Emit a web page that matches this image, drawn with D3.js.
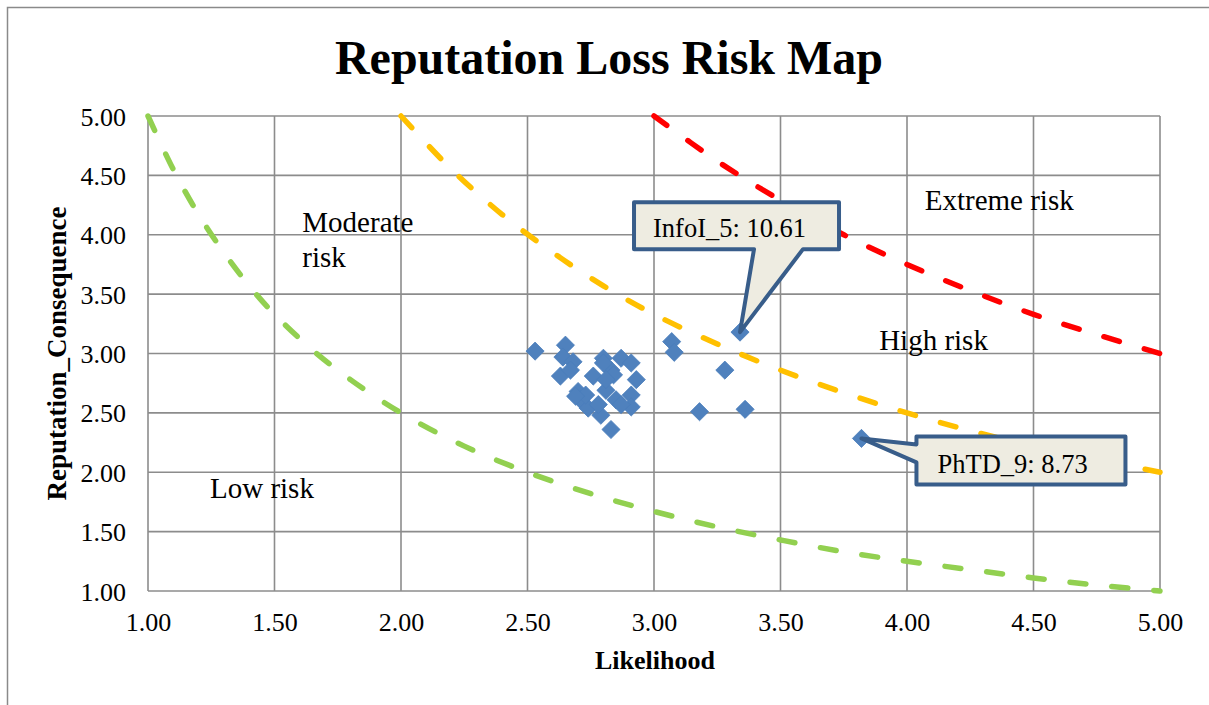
<!DOCTYPE html>
<html><head><meta charset="utf-8">
<script src="https://cdn.jsdelivr.net/npm/d3@7"></script>
<style>html,body{margin:0;padding:0;background:#fff;}svg{display:block;}</style>
</head><body>
<script>
// ---- data ----
const xTicks = [1.00, 1.50, 2.00, 2.50, 3.00, 3.50, 4.00, 4.50, 5.00];
const yTicks = [1.00, 1.50, 2.00, 2.50, 3.00, 3.50, 4.00, 4.50, 5.00];
const likelihood = [2.53, 2.65, 2.64, 2.68, 2.63, 2.67, 2.80, 2.87, 2.91, 2.76, 2.83, 2.84, 2.93, 2.70, 2.71, 2.74, 2.79, 2.83, 2.81, 2.85, 2.91, 2.91, 2.87, 2.78, 2.73, 2.81, 2.80, 2.69, 3.07, 3.08, 3.34, 3.28, 3.18, 3.36, 3.82];
const consequence = [3.02, 3.07, 2.97, 2.93, 2.81, 2.86, 2.96, 2.96, 2.92, 2.81, 2.86, 2.82, 2.78, 2.68, 2.61, 2.54, 2.48, 2.36, 2.69, 2.61, 2.65, 2.55, 2.57, 2.57, 2.65, 2.78, 2.92, 2.64, 3.10, 3.01, 3.18, 2.86, 2.51, 2.53, 2.285];
const lowX = [1.00, 1.10, 1.20, 1.30, 1.40, 1.50, 1.65, 1.80, 2.00, 2.25, 2.50, 2.75, 3.00, 3.25, 3.50, 3.75, 4.00, 4.25, 4.50, 4.75, 5.00];
const lowY = [5.00, 4.55, 4.17, 3.85, 3.57, 3.33, 3.03, 2.78, 2.50, 2.22, 2.00, 1.82, 1.67, 1.54, 1.43, 1.33, 1.25, 1.18, 1.11, 1.05, 1.00];
const midX = [2.00, 2.20, 2.40, 2.60, 2.80, 3.00, 3.25, 3.50, 3.75, 4.00, 4.25, 4.50, 4.75, 5.00];
const midY = [5.00, 4.55, 4.17, 3.85, 3.57, 3.33, 3.08, 2.86, 2.67, 2.50, 2.35, 2.22, 2.11, 2.00];
const highX = [3.00, 3.25, 3.50, 3.75, 4.00, 4.25, 4.50, 4.75, 5.00];
const highY = [5.00, 4.62, 4.29, 4.00, 3.75, 3.53, 3.33, 3.16, 3.00];
const zoneLabels = ["Moderate", "risk", "Extreme risk", "High risk", "Low risk"];
const zoneLabelX = [1.61, 1.61, 4.07, 3.89, 1.245];
const zoneLabelY = [4.02, 3.73, 4.21, 3.03, 1.78];
const calloutNames = ["InfoI_5", "PhTD_9"];
const calloutValues = [10.61, 8.73];
const calloutIndex = [30, 34];

// ---- layout ----
const W = 1209, H = 705;
const L = 148, R = 1160, T = 116, B = 591;
const svg = d3.select("body").append("svg").attr("width", W).attr("height", H);
const serif = "'Liberation Serif','Times New Roman',serif";

svg.append("rect").attr("x", 7.5).attr("y", 7.5).attr("width", 1400).attr("height", 900)
  .attr("fill", "none").attr("stroke", "#8a8a8a").attr("stroke-width", 1.5);

const x = d3.scaleLinear().domain([1, 5]).range([L, R]);
const y = d3.scaleLinear().domain([1, 5]).range([B, T]);

// grid
const g = svg.append("g");
g.selectAll(".vx").data(xTicks).join("line")
  .attr("x1", d => x(d)).attr("x2", d => x(d)).attr("y1", T).attr("y2", B)
  .attr("stroke", "#8c8c8c").attr("stroke-width", 1.6);
g.selectAll(".hy").data(yTicks).join("line")
  .attr("y1", d => y(d)).attr("y2", d => y(d)).attr("x1", L).attr("x2", R)
  .attr("stroke", "#8c8c8c").attr("stroke-width", 1.6);

// axes labels
const xAxis = d3.axisBottom(x).tickValues(xTicks).tickFormat(d3.format(".2f")).tickSize(0).tickPadding(22);
const yAxis = d3.axisLeft(y).tickValues(yTicks).tickFormat(d3.format(".2f")).tickSize(0).tickPadding(22);
const gx = svg.append("g").attr("transform", `translate(0,${B})`).call(xAxis);
const gy = svg.append("g").attr("transform", `translate(${L},0)`).call(yAxis);
[gx, gy].forEach(a => {
  a.attr("font-family", serif).attr("font-size", 26);
  a.select(".domain").remove();
  a.selectAll("text").attr("font-family", serif).attr("font-size", 26).attr("fill", "#000");
});
gy.selectAll("text").attr("dy", "0.35em");

// zone labels
svg.selectAll(".zl").data(zoneLabels).join("text")
  .attr("x", (d, i) => x(zoneLabelX[i])).attr("y", (d, i) => y(zoneLabelY[i]))
  .attr("font-family", serif).attr("font-size", 29).attr("fill", "#000").text(d => d);

// risk curves
const line = d3.line().curve(d3.curveCatmullRom);
const curves = [
  {xs: lowX, ys: lowY, c: "#92D050"},
  {xs: midX, ys: midY, c: "#FFC000"},
  {xs: highX, ys: highY, c: "#FF0000"}
];
svg.selectAll(".curve").data(curves).join("path")
  .attr("d", d => line(d.xs.map((v, i) => [x(v), y(d.ys[i])])))
  .attr("fill", "none").attr("stroke", d => d.c).attr("stroke-width", 5.5)
  .attr("stroke-linecap", "round").attr("stroke-dasharray", "16,26");

// points
const sym = d3.symbol().type(d3.symbolDiamond2).size(210);
svg.selectAll(".pt").data(likelihood).join("path")
  .attr("transform", (d, i) => `translate(${x(d)},${y(consequence[i])})`)
  .attr("d", sym).attr("fill", "#4F81BD").attr("stroke", "#4A7EBB").attr("stroke-width", 0.8);

// callouts
function calloutPath(px, py, bx0, by0, bx1, by1, side, a, b) {
  if (side === "bottom") {
    return `M${bx0},${by0} L${bx1},${by0} L${bx1},${by1} L${px + b},${by1} L${px},${py} L${px + a},${by1} L${bx0},${by1} Z`;
  }
  return `M${bx0},${by0} L${bx1},${by0} L${bx1},${by1} L${bx0},${by1} L${bx0},${py + b} L${px},${py} L${bx0},${py + a} Z`;
}
const cg = svg.append("g");
calloutNames.forEach((name, k) => {
  const i = calloutIndex[k];
  const px = x(likelihood[i]), py = y(consequence[i]);
  let d, tx, ty;
  if (k === 0) {
    d = calloutPath(px, py, px - 106, py - 130, px + 99, py - 83, "bottom", 14, 63);
    tx = px - 87; ty = py - 95;
  } else {
    d = calloutPath(px, py, px + 55, py - 2, px + 264, py + 46, "left", 6, 24);
    tx = px + 76; ty = py + 35;
  }
  cg.append("path").attr("d", d).attr("fill", "#EEECE1").attr("stroke", "#385D8A")
    .attr("stroke-width", 4).attr("stroke-linejoin", "round");
  cg.append("text").attr("x", tx).attr("y", ty).attr("font-family", serif).attr("font-size", 26.5)
    .attr("fill", "#000").text(`${name}: ${calloutValues[k].toFixed(2)}`);
});

// titles
svg.append("text").attr("x", 609).attr("y", 74).attr("text-anchor", "middle")
  .attr("font-family", serif).attr("font-weight", "bold").attr("font-size", 48).text("Reputation Loss Risk Map");
svg.append("text").attr("x", 655).attr("y", 669).attr("text-anchor", "middle")
  .attr("font-family", serif).attr("font-weight", "bold").attr("font-size", 26).text("Likelihood");
svg.append("text").attr("transform", `translate(66,${(T + B) / 2}) rotate(-90)`).attr("text-anchor", "middle")
  .attr("font-family", serif).attr("font-weight", "bold").attr("font-size", 27).text("Reputation_Consequence");
</script>
</body></html>
